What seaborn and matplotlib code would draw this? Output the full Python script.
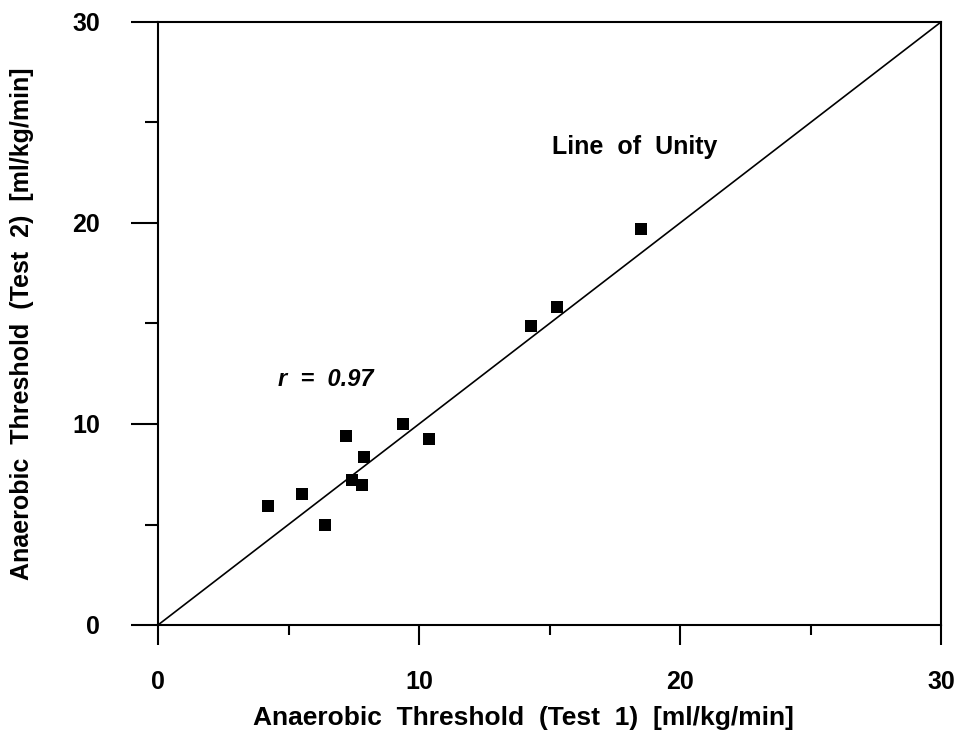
import matplotlib
matplotlib.use("Agg")
import matplotlib.pyplot as plt
from matplotlib.ticker import MultipleLocator
import seaborn as sns
import pandas as pd

# Data
test1 = [4.2, 5.5, 6.4, 7.2, 7.45, 7.8, 7.9, 9.4, 10.4, 14.3, 15.3, 18.5]
test2 = [5.9, 6.5, 5.0, 9.4, 7.2, 6.95, 8.35, 10.0, 9.25, 14.9, 15.8, 19.7]
unity = [0, 30]
major_ticks = [0, 10, 20, 30]
minor_ticks = [5, 15, 25]

sns.set_theme(style="ticks")
plt.rcParams["font.family"] = ["Liberation Sans", "DejaVu Sans"]
plt.rcParams["font.weight"] = "bold"
plt.rcParams["text.color"] = "black"
plt.rcParams["axes.labelcolor"] = "black"
plt.rcParams["xtick.color"] = "black"
plt.rcParams["ytick.color"] = "black"

df = pd.DataFrame({"t1": test1, "t2": test2})
line_df = pd.DataFrame({"x": unity, "y": unity})

fig = plt.figure(figsize=(9.6, 7.52), dpi=100)
ax = fig.add_axes([158 / 960, 1 - 625 / 752, 783 / 960, 603 / 752])

sns.lineplot(data=line_df, x="x", y="y", ax=ax, color="black", linewidth=1.2)
sns.scatterplot(data=df, x="t1", y="t2", ax=ax, marker="s", s=70,
                color="black", edgecolor="black", linewidth=0, zorder=3)

ax.set_xlim(0, 30)
ax.set_ylim(0, 30)
ax.set_xticks(major_ticks)
ax.set_yticks(major_ticks)
ax.set_xticks(minor_ticks, minor=True)
ax.set_yticks(minor_ticks, minor=True)
ax.set_xticklabels([str(t) for t in major_ticks])
ax.set_yticklabels([str(t) for t in major_ticks])

for sp in ax.spines.values():
    sp.set_linewidth(1.5)
    sp.set_color("black")
    sp.set_visible(True)

ax.tick_params(axis="x", which="major", direction="out", length=14.5, width=1.5,
               pad=18, labelsize=18, colors="black")
ax.tick_params(axis="x", which="minor", direction="out", length=7.2, width=1.5,
               colors="black")
ax.tick_params(axis="y", which="major", direction="out", length=19.5, width=1.5,
               pad=22, labelsize=18, colors="black")
ax.tick_params(axis="y", which="minor", direction="out", length=9.4, width=1.5,
               colors="black")
for lab in ax.get_xticklabels() + ax.get_yticklabels():
    lab.set_fontweight("bold")
    lab.set_color("black")

ax.set_xlabel("Anaerobic  Threshold  (Test  1)  [ml/kg/min]", fontsize=19,
              fontweight="bold", va="center", color="black")
ax.set_ylabel("Anaerobic  Threshold  (Test  2)  [ml/kg/min]", fontsize=18,
              fontweight="bold", va="center", color="black")
ax.xaxis.set_label_coords(0.467, -0.154)
ax.yaxis.set_label_coords(-0.1737, 0.5)

ax.text(15.1, 23.8, "Line  of  Unity", fontsize=18, fontweight="bold",
        ha="left", va="center", color="black")
ax.text(4.6, 12.2, "r  =  0.97", fontsize=17, fontweight="bold",
        style="italic", ha="left", va="center", color="black")

fig.savefig("out.png", dpi=100)
